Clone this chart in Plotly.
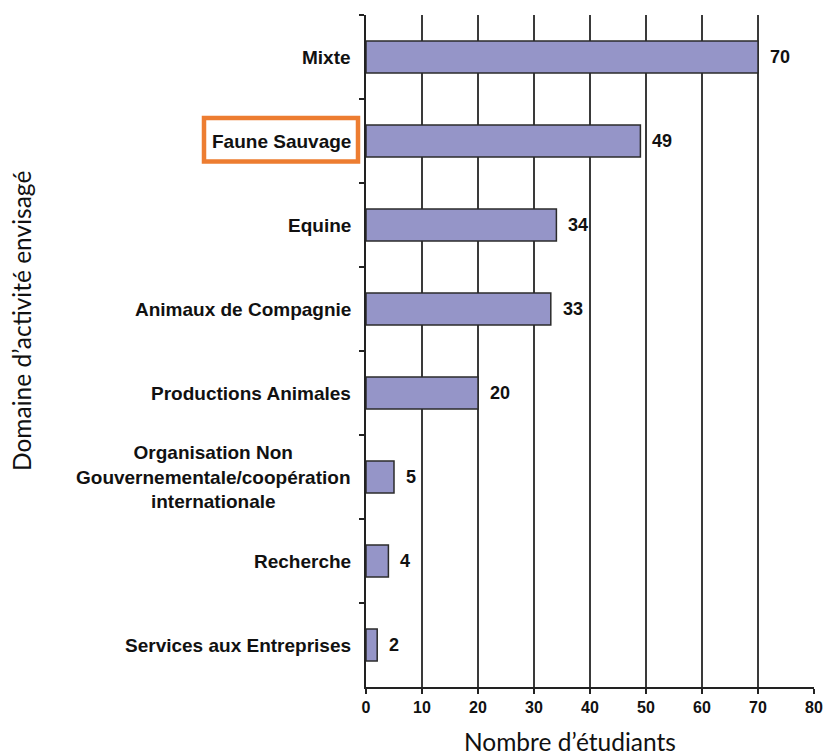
import plotly.graph_objects as go

categories = [
    "Mixte",
    "Faune Sauvage",
    "Equine",
    "Animaux de Compagnie",
    "Productions Animales",
    "Organisation Non<br>Gouvernementale/coopération<br>internationale",
    "Recherche",
    "Services aux Entreprises",
]
values = [70, 49, 34, 33, 20, 5, 4, 2]
x_ticks = [0, 10, 20, 30, 40, 50, 60, 70, 80]
x_title = "Nombre d’étudiants"
y_title = "Domaine d’activité envisagé"
highlight = "Faune Sauvage"

W, H = 824, 753
L, T, R, B = 366, 15, 10, 66
pw = W - L - R
ph = H - T - B

fig = go.Figure(
    go.Bar(
        x=values,
        y=categories,
        orientation="h",
        marker=dict(color="#9595c8", line=dict(color="#2b2b2b", width=1.5)),
        width=0.38,
        hoverinfo="skip",
    )
)

annotations = []
for c, v in zip(categories, values):
    annotations.append(dict(
        x=0, xref="paper", xshift=-13, y=c, yref="y",
        text=f"<b>{c}</b>", showarrow=False, xanchor="right", yanchor="middle",
        align="center", font=dict(family="Arial", size=19, color="#111"),
    ))
    annotations.append(dict(
        x=v, xref="x", xshift=10, y=c, yref="y",
        text=f"<b>{v}</b>", showarrow=False, xanchor="left", yanchor="middle",
        font=dict(family="Arial", size=18, color="#111"),
    ))

annotations.append(dict(
    x=(570 - L) / pw, xref="paper", y=0, yref="paper", yshift=-(741 - 687),
    text=x_title, showarrow=False, xanchor="center", yanchor="middle",
    font=dict(family="Lato", size=24.5, color="#111"),
))
annotations.append(dict(
    x=(21 - L) / pw, xref="paper", y=(687 - 321) / ph, yref="paper",
    text=y_title, showarrow=False, textangle=-90, xanchor="center", yanchor="middle",
    font=dict(family="Lato", size=24.5, color="#111"),
))

hi = categories.index(highlight)
shapes = [dict(
    type="rect", xref="paper", yref="y",
    x0=(204 - L) / pw, x1=(358 - L) / pw,
    y0=hi - 0.274, y1=hi + 0.244,
    line=dict(color="#ED7D31", width=4.5), fillcolor="rgba(0,0,0,0)",
)]

fig.update_layout(
    width=W, height=H,
    margin=dict(l=L, r=R, t=T, b=B, pad=0, autoexpand=False),
    paper_bgcolor="white", plot_bgcolor="white",
    showlegend=False,
    annotations=annotations,
    shapes=shapes,
    xaxis=dict(
        range=[0, 80], tickvals=x_ticks, ticktext=[f"<b>{t}</b>" for t in x_ticks],
        showgrid=True, gridcolor="#3a3a3a", gridwidth=1.5,
        showline=True, linecolor="#222", linewidth=1.5,
        ticks="outside", ticklen=5, tickcolor="#222", tickwidth=1.5,
        zeroline=False, automargin=False, ticklabeloverflow="allow",
        tickfont=dict(family="Arial", size=16, color="#111"),
    ),
    yaxis=dict(
        categoryorder="array", categoryarray=categories,
        range=[len(categories) - 0.5, -0.5],
        showticklabels=False, showgrid=False, zeroline=False, automargin=False,
        showline=True, linecolor="#222", linewidth=1.5,
        ticks="outside", tickson="boundaries", ticklen=5, tickcolor="#222", tickwidth=1.5,
    ),
)

fig.write_html(
    "out.html",
    config={"displayModeBar": False},
    post_script="document.body.style.margin='0';document.body.style.overflow='hidden';",
)
